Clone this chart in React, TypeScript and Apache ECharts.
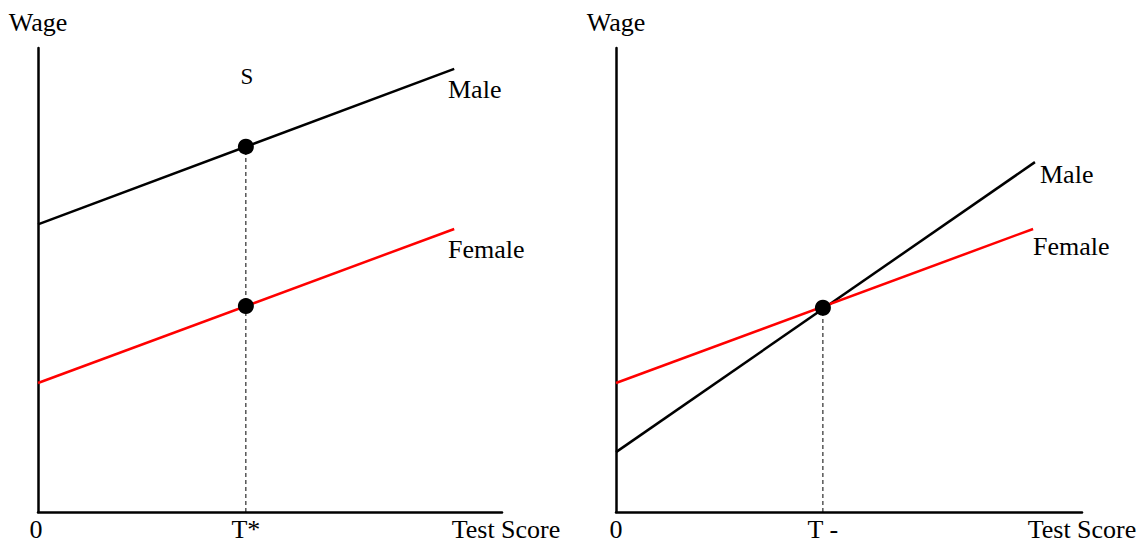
import React, { useEffect, useRef } from "react";
import * as echarts from "echarts";

// Left panel (discrimination: parallel lines)
const leftMale: [number, number][] = [[0, 6.2], [8.97, 9.55]];
const leftFemale: [number, number][] = [[0, 2.78], [8.97, 6.1]];
const leftT = 4.48;

// Right panel (different slopes, crossing at T-)
const rightMale: [number, number][] = [[0, 1.29], [8.99, 7.54]];
const rightFemale: [number, number][] = [[0, 2.78], [8.95, 6.1]];
const rightT = 4.44;

const xTickLabelsLeft = ["0", "T*"];
const xTickLabelsRight = ["0", "T -"];
const axisTitles = { y: "Wage", x: "Test Score" };
const seriesNames = ["Male", "Female"];

const FONT = '"Liberation Serif", "Times New Roman", serif';

function yAt(line: [number, number][], x: number) {
  const [[x0, y0], [x1, y1]] = line;
  return y0 + ((y1 - y0) * (x - x0)) / (x1 - x0);
}

export default function App() {
  const ref = useRef<HTMLDivElement>(null);
  useEffect(() => {
    if (!ref.current) return;
    const chart = echarts.init(ref.current, null, { renderer: "svg" });
    const axisLine = { show: true, lineStyle: { color: "#000", width: 2.5 } };
    const mkAxis = (gi: number) => ({
      type: "value" as const,
      gridIndex: gi,
      min: 0,
      max: 10,
      axisLine,
      axisTick: { show: false },
      axisLabel: { show: false },
      splitLine: { show: false },
    });
    const lineS = (name: string, data: any, color: string, gi: number) => ({
      type: "line" as const,
      name,
      xAxisIndex: gi,
      yAxisIndex: gi,
      data,
      symbol: "none",
      lineStyle: { color, width: 2.5 },
      z: 3,
    });
    const dashS = (x: number, y: number, gi: number) => ({
      type: "line" as const,
      xAxisIndex: gi,
      yAxisIndex: gi,
      data: [[x, 0], [x, y]],
      symbol: "none",
      lineStyle: { color: "#000", width: 1, type: [4, 3] as any },
      z: 2,
    });
    const dotS = (pts: [number, number][], gi: number) => ({
      type: "scatter" as const,
      xAxisIndex: gi,
      yAxisIndex: gi,
      data: pts,
      symbol: "circle",
      symbolSize: 16,
      itemStyle: { color: "#000", opacity: 1 },
      z: 5,
    });

    const lmY = yAt(leftMale, leftT);
    const lfY = yAt(leftFemale, leftT);
    const rY = (yAt(rightMale, rightT) + yAt(rightFemale, rightT)) / 2;

    chart.setOption({
      animation: false,
      grid: [
        { left: 38, top: 48, width: 464, height: 464 },
        { left: 616, top: 48, width: 466, height: 464 },
      ],
      xAxis: [mkAxis(0), mkAxis(1)],
      yAxis: [mkAxis(0), mkAxis(1)],
      series: [
        lineS(seriesNames[0], leftMale, "#000", 0),
        lineS(seriesNames[1], leftFemale, "#ff0000", 0),
        dashS(leftT, lmY, 0),
        dotS([[leftT, lmY], [leftT, lfY]], 0),
        lineS(seriesNames[0], rightMale, "#000", 1),
        lineS(seriesNames[1], rightFemale, "#ff0000", 1),
        dashS(rightT, rY, 1),
        dotS([[rightT, rY]], 1),
      ],
    });

    const px = (gi: number, x: number, y: number) =>
      chart.convertToPixel({ gridIndex: gi } as any, [x, y]) as number[];
    const txt = (text: string, x: number, y: number, align = "center", size = 26) => ({
      type: "text" as const,
      x,
      y,
      style: {
        text,
        fill: "#000",
        font: `${size}px ${FONT}`,
        align,
        verticalAlign: "middle",
      },
    });
    const l0 = px(0, 0, 0);
    const lT = px(0, leftT, 0);
    const r0 = px(1, 0, 0);
    const rT = px(1, rightT, 0);
    const by = 529;
    chart.setOption({
      graphic: [
        txt(axisTitles.y, l0[0], 22),
        txt(axisTitles.y, r0[0], 22),
        txt(xTickLabelsLeft[0], l0[0] - 2, by),
        txt(xTickLabelsLeft[1], lT[0], by),
        txt(axisTitles.x, 506, by),
        txt(xTickLabelsRight[0], r0[0], by),
        txt(xTickLabelsRight[1], rT[0], by),
        txt(axisTitles.x, 1082, by),
        txt("S", 247, 76, "center", 23),
        txt(seriesNames[0], 448, 89, "left"),
        txt(seriesNames[1], 448, 249, "left"),
        txt(seriesNames[0], 1040, 174, "left"),
        txt(seriesNames[1], 1033, 246, "left"),
      ],
    });
    return () => chart.dispose();
  }, []);
  return (
    <div
      ref={ref}
      style={{ position: "fixed", left: 0, top: 0, width: 1141, height: 544, background: "#fff" }}
    />
  );
}
